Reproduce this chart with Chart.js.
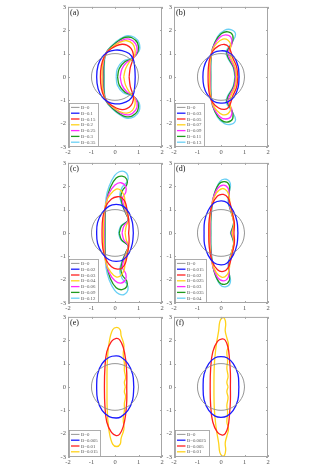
<!DOCTYPE html>
<html>
<head>
<meta charset="utf-8">
<script src="https://cdn.jsdelivr.net/npm/chart.js@4.4.0/dist/chart.umd.min.js"></script>
<style>
  body { margin: 0; background: #fff; }
  #wrap { position: relative; width: 331px; height: 468px; overflow: hidden; }
  #wrap canvas { position: absolute; }
</style>
</head>
<body>
<div id="wrap"></div>
<script>
// axis ticks
const xTicks = [-2, -1, 0, 1, 2];
const yTicks = [-3, -2, -1, 0, 1, 2, 3];
const panelNames = ['(a)', '(b)', '(c)', '(d)', '(e)', '(f)'];

// upper half of each drop, from the right end on y=0 round to the left end on y=0
const unitCircle = [[1, 0], [0.966, 0.259], [0.866, 0.5], [0.707, 0.707], [0.5, 0.866], [0.259, 0.966], [0, 1],
  [-0.259, 0.966], [-0.5, 0.866], [-0.707, 0.707], [-0.866, 0.5], [-0.966, 0.259], [-1, 0]];

const labelsA = ['B=0', 'B=0.1', 'B=0.15', 'B=0.2', 'B=0.25', 'B=0.3', 'B=0.35'];
const shapesA = [
  unitCircle,
  [[0.86, 0], [0.84, 0.4], [0.78, 0.75], [0.6, 1.0], [0.3, 1.13], [0, 1.15], [-0.3, 1.07], [-0.55, 0.85], [-0.72, 0.5], [-0.78, 0]],
  [[0.6, 0], [0.65, 0.4], [0.76, 0.75], [0.78, 0.98], [0.68, 1.22], [0.5, 1.36], [0.3, 1.4], [0.05, 1.33], [-0.25, 1.14], [-0.45, 0.88], [-0.58, 0.5], [-0.62, 0]],
  [[0.37, 0], [0.45, 0.35], [0.62, 0.66], [0.8, 0.85], [0.86, 1.12], [0.75, 1.42], [0.5, 1.55], [0.2, 1.48], [-0.1, 1.28], [-0.37, 1.02], [-0.52, 0.6], [-0.55, 0]],
  [[0.22, 0], [0.3, 0.35], [0.5, 0.63], [0.78, 0.8], [0.94, 1.1], [0.88, 1.42], [0.6, 1.62], [0.3, 1.57], [0, 1.37], [-0.37, 1.03], [-0.5, 0.6], [-0.52, 0]],
  [[0.11, 0], [0.18, 0.35], [0.42, 0.65], [0.76, 0.8], [0.98, 1.1], [0.96, 1.46], [0.72, 1.68], [0.45, 1.7], [0.2, 1.58], [-0.12, 1.33], [-0.38, 1.03], [-0.47, 0.6], [-0.48, 0]],
  [[0.05, 0], [0.1, 0.35], [0.35, 0.68], [0.74, 0.82], [1.02, 1.1], [1.03, 1.45], [0.82, 1.7], [0.52, 1.77], [0.25, 1.65], [-0.12, 1.36], [-0.38, 1.03], [-0.45, 0.6], [-0.46, 0]]
];

const labelsB = ['B=0', 'B=0.03', 'B=0.05', 'B=0.07', 'B=0.09', 'B=0.11', 'B=0.13'];
const shapesB = [
  unitCircle,
  [[0.77, 0], [0.73, 0.45], [0.56, 0.85], [0.27, 1.08], [0, 1.12], [-0.3, 1.05], [-0.58, 0.76], [-0.73, 0.4], [-0.77, 0]],
  [[0.72, 0], [0.66, 0.45], [0.5, 0.82], [0.42, 1.08], [0.32, 1.3], [0.15, 1.39], [-0.1, 1.33], [-0.35, 1.1], [-0.5, 0.7], [-0.55, 0]],
  [[0.67, 0], [0.6, 0.42], [0.42, 0.82], [0.37, 1.1], [0.42, 1.36], [0.3, 1.57], [0.08, 1.62], [-0.17, 1.45], [-0.36, 1.15], [-0.46, 0.7], [-0.48, 0]],
  [[0.63, 0], [0.56, 0.42], [0.36, 0.82], [0.3, 1.06], [0.46, 1.4], [0.42, 1.7], [0.2, 1.8], [-0.05, 1.7], [-0.3, 1.35], [-0.43, 0.9], [-0.46, 0]],
  [[0.61, 0], [0.53, 0.42], [0.31, 0.82], [0.25, 1.06], [0.47, 1.45], [0.5, 1.78], [0.3, 1.93], [0.02, 1.86], [-0.25, 1.5], [-0.41, 1.0], [-0.44, 0]],
  [[0.59, 0], [0.51, 0.42], [0.28, 0.82], [0.22, 1.1], [0.48, 1.5], [0.62, 1.83], [0.45, 2.02], [0.15, 2.0], [-0.15, 1.72], [-0.38, 1.1], [-0.43, 0]]
];

const labelsC = ['B=0', 'B=0.02', 'B=0.03', 'B=0.04', 'B=0.06', 'B=0.09', 'B=0.12'];
const shapesC = [
  unitCircle,
  [[0.78, 0], [0.74, 0.45], [0.6, 0.86], [0.35, 1.15], [0.05, 1.22], [-0.25, 1.15], [-0.55, 0.86], [-0.74, 0.45], [-0.78, 0]],
  [[0.58, 0], [0.6, 0.3], [0.58, 0.6], [0.52, 0.95], [0.44, 1.3], [0.3, 1.5], [0.1, 1.55], [-0.15, 1.45], [-0.38, 1.15], [-0.52, 0.65], [-0.55, 0]],
  [[0.43, 0], [0.48, 0.3], [0.58, 0.55], [0.48, 0.9], [0.42, 1.25], [0.4, 1.55], [0.25, 1.82], [0.05, 1.88], [-0.2, 1.65], [-0.38, 1.3], [-0.47, 0.7], [-0.49, 0]],
  [[0.3, 0], [0.38, 0.3], [0.57, 0.55], [0.46, 0.9], [0.35, 1.25], [0.32, 1.5], [0.46, 1.75], [0.45, 2.0], [0.25, 2.15], [0, 2.05], [-0.25, 1.7], [-0.4, 1.2], [-0.45, 0.6], [-0.46, 0]],
  [[0.18, 0], [0.28, 0.3], [0.56, 0.55], [0.45, 0.86], [0.32, 1.2], [0.25, 1.55], [0.32, 1.82], [0.5, 2.06], [0.5, 2.3], [0.3, 2.43], [0.05, 2.35], [-0.2, 1.95], [-0.35, 1.4], [-0.42, 0.8], [-0.43, 0]],
  [[0.15, 0], [0.25, 0.3], [0.56, 0.55], [0.45, 0.86], [0.3, 1.2], [0.2, 1.6], [0.3, 1.95], [0.52, 2.2], [0.55, 2.45], [0.4, 2.63], [0.18, 2.62], [-0.02, 2.45], [-0.25, 2.0], [-0.38, 1.5], [-0.42, 0.8], [-0.42, 0]]
];

const labelsD = ['B=0', 'B=0.015', 'B=0.02', 'B=0.025', 'B=0.03', 'B=0.035', 'B=0.04'];
const shapesD = [
  unitCircle,
  [[0.72, 0], [0.68, 0.5], [0.52, 0.95], [0.25, 1.3], [0, 1.37], [-0.3, 1.28], [-0.55, 0.95], [-0.7, 0.5], [-0.72, 0]],
  [[0.55, 0], [0.57, 0.4], [0.5, 0.8], [0.42, 1.15], [0.3, 1.5], [0.1, 1.65], [-0.15, 1.58], [-0.38, 1.2], [-0.5, 0.6], [-0.52, 0]],
  [[0.48, 0], [0.55, 0.4], [0.45, 0.85], [0.38, 1.2], [0.35, 1.55], [0.25, 1.8], [0.05, 1.9], [-0.2, 1.7], [-0.4, 1.2], [-0.47, 0.6], [-0.48, 0]],
  [[0.45, 0], [0.55, 0.42], [0.44, 0.88], [0.35, 1.25], [0.35, 1.6], [0.3, 1.92], [0.1, 2.05], [-0.15, 1.9], [-0.37, 1.35], [-0.45, 0.6], [-0.46, 0]],
  [[0.42, 0], [0.54, 0.45], [0.43, 0.9], [0.33, 1.3], [0.35, 1.7], [0.35, 2.05], [0.15, 2.2], [-0.1, 2.08], [-0.33, 1.5], [-0.43, 0.7], [-0.44, 0]],
  [[0.4, 0], [0.54, 0.45], [0.42, 0.92], [0.3, 1.35], [0.35, 1.75], [0.4, 2.1], [0.22, 2.3], [-0.05, 2.2], [-0.3, 1.6], [-0.42, 0.7], [-0.43, 0]]
];

const labelsE = ['B=0', 'B=0.005', 'B=0.01', 'B=0.015'];
const shapesE = [
  unitCircle,
  [[0.8, 0], [0.75, 0.55], [0.55, 1.0], [0.25, 1.28], [0.05, 1.33], [-0.25, 1.27], [-0.55, 1.0], [-0.74, 0.55], [-0.78, 0]],
  [[0.5, 0], [0.5, 0.6], [0.45, 1.2], [0.35, 1.7], [0.2, 2.02], [0.05, 2.08], [-0.15, 1.95], [-0.35, 1.5], [-0.43, 0.8], [-0.45, 0]],
  [[0.44, 0], [0.4, 0.2], [0.45, 0.4], [0.4, 0.7], [0.4, 1.0], [0.35, 1.4], [0.38, 1.8], [0.26, 2.2], [0.22, 2.45], [0.08, 2.55], [-0.1, 2.45], [-0.25, 1.9], [-0.33, 1.0], [-0.34, 0]]
];

const labelsF = ['B=0', 'B=0.0025', 'B=0.005', 'B=0.01'];
const shapesF = [
  unitCircle,
  [[0.76, 0], [0.72, 0.55], [0.52, 1.0], [0.25, 1.25], [0, 1.3], [-0.25, 1.25], [-0.52, 1.0], [-0.72, 0.55], [-0.76, 0]],
  [[0.4, 0], [0.4, 0.6], [0.36, 1.2], [0.3, 1.7], [0.18, 2.0], [0.05, 2.06], [-0.15, 1.95], [-0.35, 1.5], [-0.44, 0.8], [-0.46, 0]],
  [[0.3, 0], [0.25, 0.2], [0.3, 0.45], [0.25, 0.8], [0.28, 1.1], [0.25, 1.5], [0.32, 1.8], [0.25, 2.1], [0.18, 2.4], [0.2, 2.7], [0.15, 2.93], [0.05, 2.96], [-0.05, 2.8], [-0.1, 2.4], [-0.2, 1.8], [-0.28, 1.0], [-0.3, 0]]
];

const lineColors = ['#8a8a8a', '#1a1aff', '#ff1f1f', '#ffd21a', '#ff2bff', '#1f9a1f', '#6ad0f5'];

// plot area boxes in the page
const panels = [
  { left: 68, top: 5, shapes: shapesA, labels: labelsA },
  { left: 174, top: 5, shapes: shapesB, labels: labelsB },
  { left: 68, top: 161, shapes: shapesC, labels: labelsC },
  { left: 174, top: 161, shapes: shapesD, labels: labelsD },
  { left: 68, top: 315, shapes: shapesE, labels: labelsE },
  { left: 174, top: 315, shapes: shapesF, labels: labelsF }
];
const plotW = 94, plotH = 142;
const padL = 12, padT = 4, padR = 4, padB = 10;

// close the drop by mirroring the upper half about y=0
function closeShape(half) {
  const pts = half.map(p => ({ x: p[0], y: p[1] }));
  for (let i = half.length - 2; i >= 0; i--) {
    pts.push({ x: half[i][0], y: -half[i][1] });
  }
  return pts;
}

const boxPlugin = {
  id: 'box',
  afterDraw(chart, args, opts) {
    const ctx = chart.ctx;
    const a = chart.chartArea;
    const xs = chart.scales.x, ys = chart.scales.y;
    ctx.save();
    ctx.strokeStyle = '#a6a6a6';
    ctx.lineWidth = 1;
    ctx.strokeRect(a.left + 0.5, a.top + 0.5, a.right - a.left - 1, a.bottom - a.top - 1);
    ctx.beginPath();
    xTicks.forEach(v => {
      const px = Math.round(xs.getPixelForValue(v)) + 0.5;
      ctx.moveTo(px, a.bottom); ctx.lineTo(px, a.bottom - 2);
      ctx.moveTo(px, a.top); ctx.lineTo(px, a.top + 2);
    });
    yTicks.forEach(v => {
      const py = Math.round(ys.getPixelForValue(v)) + 0.5;
      ctx.moveTo(a.left, py); ctx.lineTo(a.left + 2, py);
      ctx.moveTo(a.right, py); ctx.lineTo(a.right - 2, py);
    });
    ctx.stroke();

    // panel name
    ctx.fillStyle = '#111';
    ctx.font = '8px "Liberation Serif"';
    ctx.textBaseline = 'top';
    ctx.fillText(opts.name, a.left + 2, a.top + 2.5);

    // legend in the lower left corner
    const ds = chart.data.datasets;
    const rowH = 5.8;
    ctx.font = '4.8px "Liberation Serif"';
    let textW = 0;
    ds.forEach(d => { textW = Math.max(textW, ctx.measureText(d.label).width); });
    const bw = Math.ceil(14 + textW);
    const bh = Math.ceil(ds.length * rowH + 2);
    const bx = a.left + 1.5, by = a.bottom - bh - 0.5;
    ctx.fillStyle = '#fff';
    ctx.fillRect(bx, by, bw, bh);
    ctx.strokeStyle = '#9a9a9a';
    ctx.lineWidth = 0.8;
    ctx.strokeRect(bx, by, bw, bh);
    ctx.textBaseline = 'middle';
    ds.forEach((d, i) => {
      const cy = by + 1 + rowH * (i + 0.5);
      ctx.strokeStyle = d.borderColor;
      ctx.lineWidth = d.borderWidth;
      ctx.beginPath();
      ctx.moveTo(bx + 1.5, cy); ctx.lineTo(bx + 10, cy);
      ctx.stroke();
      ctx.fillStyle = '#555';
      ctx.fillText(d.label, bx + 11.5, cy + 0.3);
    });
    ctx.restore();
  }
};

const tickFont = { family: 'Liberation Serif', size: 6.5 };

panels.forEach((p, k) => {
  const canvas = document.createElement('canvas');
  canvas.width = plotW + padL + padR;
  canvas.height = plotH + padT + padB;
  canvas.style.left = (p.left - padL) + 'px';
  canvas.style.top = (p.top - padT) + 'px';
  document.getElementById('wrap').appendChild(canvas);

  const datasets = p.shapes.map((s, i) => ({
    label: p.labels[i],
    data: closeShape(s),
    borderColor: lineColors[i],
    borderWidth: i === 0 ? 0.9 : 1.3,
    pointRadius: 0,
    showLine: true,
    fill: false,
    tension: 0.4
  }));

  new Chart(canvas, {
    type: 'scatter',
    data: { datasets: datasets },
    options: {
      responsive: false,
      animation: false,
      devicePixelRatio: 1,
      layout: { padding: { top: padT, right: padR, left: 0, bottom: 0 } },
      plugins: {
        legend: { display: false },
        tooltip: { enabled: false },
        box: { name: panelNames[k] }
      },
      scales: {
        x: {
          type: 'linear', min: -2, max: 2,
          afterBuildTicks: s => { s.ticks = xTicks.map(v => ({ value: v })); },
          afterFit: s => { s.height = padB; },
          ticks: { font: tickFont, color: '#555', padding: 1, maxRotation: 0 },
          grid: { display: false, drawTicks: false },
          border: { display: false }
        },
        y: {
          type: 'linear', min: -3, max: 3,
          afterBuildTicks: s => { s.ticks = yTicks.map(v => ({ value: v })); },
          afterFit: s => { s.width = padL; },
          ticks: { font: tickFont, color: '#555', padding: 2 },
          grid: { display: false, drawTicks: false },
          border: { display: false }
        }
      }
    },
    plugins: [boxPlugin]
  });
});
</script>
</body>
</html>
